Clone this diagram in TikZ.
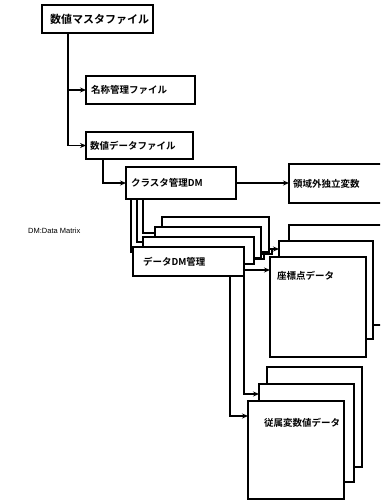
\documentclass[tikz,border=0pt]{standalone}
\usepackage{fontspec}
\newfontfamily\jp{Noto Sans CJK JP}[UprightFont={* Bold}]
\newfontfamily\lsans{Liberation Sans}
\usetikzlibrary{arrows.meta,calc}
\begin{document}
\begin{tikzpicture}[x=1pt,y=-1pt,
  bx/.style={draw, line width=1.2pt, fill=white, anchor=north west, inner ysep=0pt, outer sep=0pt, align=left, font=\jp\fontsize{9.5}{11}\selectfont},
  jt/.style={font=\jp\fontsize{9.5}{11}\selectfont, anchor=west, inner sep=0pt},
  ln/.style={line width=1.2pt},
  ar/.style={line width=1.2pt, -{Stealth[length=6pt,width=5pt]}}
]
\useasboundingbox (0,0) rectangle (380,500);
\fill[white] (0,0) rectangle (380,500);
\clip (0,0) rectangle (380,500);

% top chain
\node[bx, minimum width=111pt, minimum height=28pt, inner xsep=8pt, text width=95pt, font=\jp\fontsize{11}{12}\selectfont] (m1) at (42,5) {数値マスタファイル};
\node[bx, minimum width=109pt, minimum height=28pt, inner xsep=5pt, text width=99pt] (m2) at (86,76) {名称管理ファイル};
\node[bx, minimum width=107pt, minimum height=27pt, inner xsep=4pt, text width=99pt] (m3) at (86,132) {数値データファイル};
\node[bx, minimum width=110pt, minimum height=32pt, inner xsep=5pt, text width=100pt] (c) at (126,167) {クラスタ管理DM};
\node[bx, minimum width=96pt, minimum height=39pt, inner xsep=4pt, text width=88pt] (r) at (289,164) {領域外独立変数};

% DM stack
\node[bx, minimum width=107pt, minimum height=35pt] (d4) at (162,217) {};
\node[bx, minimum width=106pt, minimum height=31pt] (d3) at (155,227) {};
\node[bx, minimum width=111pt, minimum height=27pt] (d2) at (143,237) {};
\node[bx, minimum width=111pt, minimum height=29pt, inner xsep=10pt, text width=91pt] (d1) at (133,247) {データDM管理};

% coordinate data stack
\node[bx, minimum width=96pt, minimum height=100pt] (p3) at (289,225) {};
\node[bx, minimum width=94pt, minimum height=98pt] (p2) at (279,241) {};
\node[bx, minimum width=96pt, minimum height=100pt] (p1) at (270,257) {};
\node[jt] (p1t) at (277,276) {座標点データ};

% dependent variable stack
\node[bx, minimum width=95pt, minimum height=100pt] (q3) at (267,367) {};
\node[bx, minimum width=95pt, minimum height=98pt] (q2) at (259,384) {};
\node[bx, minimum width=96pt, minimum height=98pt] (q1) at (248,401) {};
\node[jt] (q1t) at (264,423) {従属変数値データ};

% legend
\node[font=\lsans\fontsize{7.5}{9}\selectfont, anchor=west, inner sep=0pt] (lg) at (28,231) {DM:Data Matrix};

% connectors
\coordinate (t0) at ($(m1.south west)+(26,0)$);
\draw[ar] (t0) |- (m3.west);
\draw[ar] (t0 |- m2.west) -- (m2.west);
\draw[ar] ($(m3.south west)+(17,0)$) |- (c.west);
\draw[ar] (c.east) -- (c.east -| r.west);

\draw[ln] ($(c.south west)+(17,0)$) |- ($(d3.north west)+(0,6)$);
\draw[ln] ($(c.south west)+(11,0)$) |- ($(d2.north west)+(0,5)$);
\draw[ln] ($(c.south west)+(5,0)$) |- ($(d1.north west)+(0,5)$);

\coordinate (a4) at ($(d4.north east)+(0,32)$);
\coordinate (a3) at ($(d3.north east)+(0,27)$);
\coordinate (a2) at ($(d2.north east)+(0,22)$);
\draw[ar] (a4) -- (a4 -| p2.west);
\draw[ln] (a3) -| ($(a4)+(3,0)$);
\draw[ln] (a2) -| ($(a3)+(3,0)$);

\coordinate (a1) at ($(d1.north east)+(0,23)$);
\draw[ar] (a1) -- (a1 -| p1.west);
\draw[ar] (d1.south east) |- ($(q2.north west)+(0,10)$);
\draw[ar] ($(d1.south east)+(-14,0)$) |- ($(q1.north west)+(0,15)$);
\end{tikzpicture}
\end{document}
